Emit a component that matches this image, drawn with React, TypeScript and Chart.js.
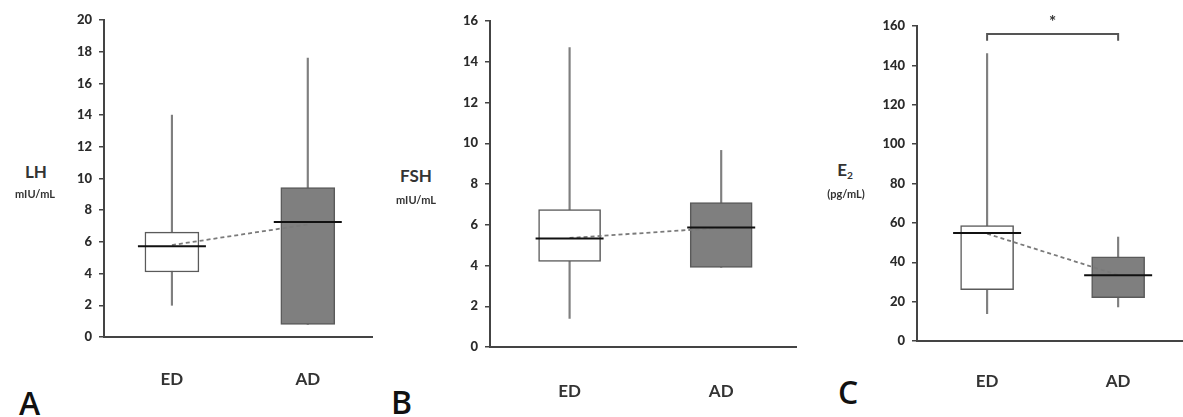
import React, { useEffect, useRef } from "react";
import { Chart, registerables } from "chart.js";

Chart.register(...registerables);

// ---------- data ----------
const categories = ["ED", "AD"];

const lhMin = [2.0, 0.8];
const lhQ1 = [4.1, 0.8];
const lhMedian = [5.72, 7.25];
const lhQ3 = [6.62, 9.42];
const lhMax = [14.0, 17.6];
const lhMean = [5.8, 7.1];
const lhTicksMax = 20;
const lhStep = 2;

const fshMin = [1.4, 3.91];
const fshQ1 = [4.2, 3.91];
const fshMedian = [5.32, 5.87];
const fshQ3 = [6.74, 7.09];
const fshMax = [14.7, 9.65];
const fshMean = [5.35, 5.85];
const fshTicksMax = 16;
const fshStep = 2;

const e2Min = [13.9, 17.3];
const e2Q1 = [26.1, 22.0];
const e2Median = [54.9, 33.4];
const e2Q3 = [58.6, 42.7];
const e2Max = [146, 52.8];
const e2Mean = [54.5, 33.5];
const e2TicksMax = 160;
const e2Step = 20;
const e2Significance = { yLine: 156, yEnd: 152.5, yStar: 162, label: "*" };

// ---------- helpers ----------
const catX = (i: number) => 2 * i + 1;

type PanelCfg = {
  left: number;
  right: number;
  top: number;
  bottom: number;
  xMin: number;
  xMax: number;
  yMax: number;
  step: number;
  min: number[];
  q1: number[];
  median: number[];
  q3: number[];
  max: number[];
  mean: number[];
  barThickness: number;
  labelPad: number;
  sig?: { yLine: number; yEnd: number; yStar: number; label: string };
};

const Y_W = 50;
const PAD_T = 20;
const X_H = 60;

function Panel({ cfg }: { cfg: PanelCfg }) {
  const ref = useRef<HTMLCanvasElement | null>(null);
  const width = cfg.right - cfg.left + Y_W;
  const height = cfg.bottom - cfg.top + PAD_T + X_H;

  useEffect(() => {
    if (!ref.current) return;
    const sigPlugin = {
      id: "sig",
      afterDatasetsDraw(chart: any) {
        if (!cfg.sig) return;
        const { ctx, scales } = chart;
        const x1 = scales.x.getPixelForValue(catX(0));
        const x2 = scales.x.getPixelForValue(catX(1));
        const yl = scales.y.getPixelForValue(cfg.sig.yLine);
        const ye = scales.y.getPixelForValue(cfg.sig.yEnd);
        const ys = scales.y.getPixelForValue(cfg.sig.yStar);
        ctx.save();
        ctx.strokeStyle = "#555";
        ctx.lineWidth = 2;
        ctx.beginPath();
        ctx.moveTo(x1, ye);
        ctx.lineTo(x1, yl);
        ctx.lineTo(x2, yl);
        ctx.lineTo(x2, ye);
        ctx.stroke();
        ctx.fillStyle = "#333";
        ctx.font = "bold 17px Lato";
        ctx.textAlign = "center";
        ctx.textBaseline = "middle";
        ctx.fillText(cfg.sig.label, (x1 + x2) / 2, ys);
        ctx.restore();
      },
    };

    const chart = new Chart(ref.current, {
      type: "bar",
      data: {
        datasets: [
          {
            type: "bar",
            label: "whisker",
            data: categories.map((_, i) => ({ x: catX(i), y: [cfg.min[i], cfg.max[i]] })) as any,
            backgroundColor: "#7f7f7f",
            barThickness: 1.5,
            grouped: false,
            order: 4,
          } as any,
          {
            type: "bar",
            label: "box",
            data: categories.map((_, i) => ({ x: catX(i), y: [cfg.q1[i], cfg.q3[i]] })) as any,
            backgroundColor: ["#ffffff", "#7f7f7f"],
            borderColor: "#5a5a5a",
            borderWidth: 1.5,
            borderSkipped: false,
            barThickness: cfg.barThickness,
            grouped: false,
            order: 3,
          } as any,
          {
            type: "line",
            label: "mean",
            data: categories.map((_, i) => ({ x: catX(i), y: cfg.mean[i] })),
            borderColor: "#7a7a7a",
            borderWidth: 1.8,
            borderDash: [4, 3],
            pointRadius: 0,
            fill: false,
            order: 2,
          } as any,
          {
            type: "line",
            label: "median",
            data: categories.map((_, i) => ({ x: catX(i), y: cfg.median[i] })),
            showLine: false,
            pointStyle: "line",
            pointRadius: 34,
            pointBorderWidth: 2,
            pointBorderColor: "#111",
            borderColor: "#111",
            order: 1,
          } as any,
        ],
      },
      options: {
        animation: false,
        responsive: false,
        devicePixelRatio: 1,
        layout: { autoPadding: false, padding: { top: PAD_T, right: 0, left: 0, bottom: 0 } },
        plugins: { legend: { display: false }, tooltip: { enabled: false } },
        scales: {
          x: {
            type: "linear",
            offset: false,
            min: cfg.xMin,
            max: cfg.xMax,
            afterBuildTicks: (s: any) => {
              s.ticks = categories.map((_, i) => ({ value: catX(i) }));
            },
            afterFit: (s: any) => {
              s.height = X_H;
            },
            ticks: {
              autoSkip: false,
              maxRotation: 0,
              padding: cfg.labelPad,
              color: "#333",
              font: { family: "Lato", weight: "bold", size: 17 },
              callback: (v: any) => {
                const i = (Number(v) - 1) / 2;
                return categories[i] ?? "";
              },
            },
            grid: { display: false, offset: false },
            border: { display: true, color: "#444", width: 2 },
          },
          y: {
            min: 0,
            max: cfg.yMax,
            afterFit: (s: any) => {
              s.width = Y_W;
            },
            ticks: {
              stepSize: cfg.step,
              padding: 7,
              color: "#2b2b2b",
              font: { family: "Lato", weight: "900", size: 13 },
            },
            grid: {
              display: true,
              drawOnChartArea: false,
              drawTicks: true,
              tickLength: 5,
              color: "#444",
              lineWidth: 1.5,
            },
            border: { display: true, color: "#444", width: 2 },
          },
        },
      } as any,
      plugins: [sigPlugin],
    });
    return () => chart.destroy();
  }, []);

  return (
    <canvas
      ref={ref}
      width={width}
      height={height}
      style={{
        position: "absolute",
        left: cfg.left - Y_W,
        top: cfg.top - PAD_T,
        width,
        height,
      }}
    />
  );
}

const panels: PanelCfg[] = [
  {
    left: 104, right: 373, top: 20, bottom: 337,
    xMin: 0, xMax: 3.96, yMax: lhTicksMax, step: lhStep,
    min: lhMin, q1: lhQ1, median: lhMedian, q3: lhQ3, max: lhMax, mean: lhMean,
    barThickness: 54, labelPad: 24,
  },
  {
    left: 490, right: 797, top: 21, bottom: 347,
    xMin: -0.05, xMax: 4.0, yMax: fshTicksMax, step: fshStep,
    min: fshMin, q1: fshQ1, median: fshMedian, q3: fshQ3, max: fshMax, mean: fshMean,
    barThickness: 62, labelPad: 26,
  },
  {
    left: 917, right: 1183, top: 26, bottom: 341,
    xMin: -0.07, xMax: 3.99, yMax: e2TicksMax, step: e2Step,
    min: e2Min, q1: e2Q1, median: e2Median, q3: e2Q3, max: e2Max, mean: e2Mean,
    barThickness: 53, labelPad: 22, sig: e2Significance,
  },
];

const lab = (x: number, y: number, size: number): React.CSSProperties => ({
  position: "absolute",
  left: x,
  top: y,
  transform: "translate(-50%, -50%)",
  fontFamily: "Lato, sans-serif",
  fontWeight: 700,
  fontSize: size,
  lineHeight: 1,
  color: "#333",
  whiteSpace: "nowrap",
});

const letter = (x: number, y: number): React.CSSProperties => ({
  position: "absolute",
  left: x,
  top: y,
  fontFamily: "'Open Sans', sans-serif",
  fontWeight: 600,
  fontSize: 32,
  lineHeight: 1,
  color: "#111",
});

export default function App() {
  return (
    <div
      style={{
        position: "absolute",
        left: 0,
        top: 0,
        width: 1183,
        height: 417,
        background: "#fff",
        overflow: "hidden",
      }}
    >
      {panels.map((p, i) => (
        <Panel key={i} cfg={p} />
      ))}
      <div style={lab(36, 171, 17)}>LH</div>
      <div style={lab(35, 193, 11)}>mIU/mL</div>
      <div style={lab(416, 175, 17)}>FSH</div>
      <div style={lab(416, 199, 11)}>mIU/mL</div>
      <div style={lab(845, 171, 17)}>
        E<sub style={{ fontSize: "60%", verticalAlign: "-0.3em" }}>2</sub>
      </div>
      <div style={lab(846, 193, 11)}>(pg/mL)</div>
      <div style={letter(19, 387)}>A</div>
      <div style={letter(391, 386)}>B</div>
      <div style={letter(838, 376)}>C</div>
    </div>
  );
}
